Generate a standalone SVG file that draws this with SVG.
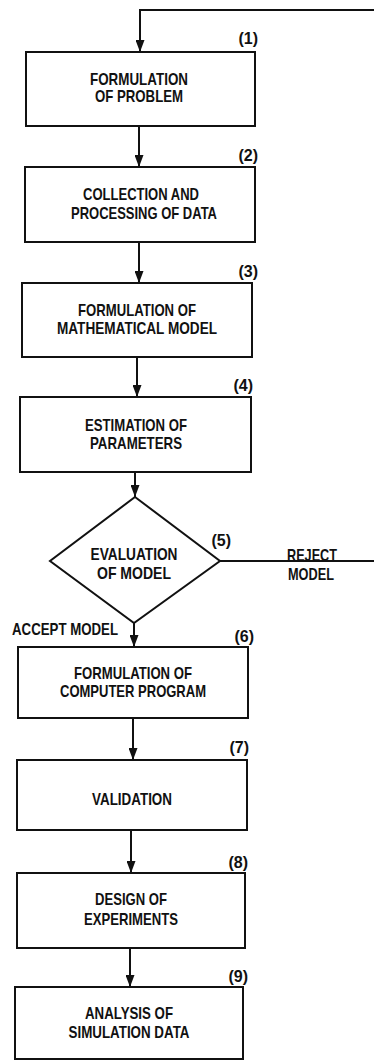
<svg xmlns="http://www.w3.org/2000/svg" width="374" height="1062" viewBox="0 0 374 1062">
  <style>
    .box { fill: #ffffff; stroke: #111111; stroke-width: 2; }
    .lbl { font-family: "Liberation Sans", Arial, sans-serif; font-weight: bold; font-size: 17px; fill: #111111; text-anchor: middle; }
    .num { font-family: "Liberation Sans", Arial, sans-serif; font-weight: bold; font-size: 16px; fill: #111111; text-anchor: end; }
    .side { font-family: "Liberation Sans", Arial, sans-serif; font-weight: bold; font-size: 17px; fill: #111111; }
    .flow { fill: none; stroke: #111111; stroke-width: 2; }
  </style>
  <defs>
    <marker id="arrow" markerUnits="userSpaceOnUse" markerWidth="13" markerHeight="9" refX="12" refY="4.5" orient="auto">
      <path d="M0,0 L12,4.5 L0,9 Z" fill="#111111"/>
    </marker>
  </defs>
  <rect width="374" height="1062" fill="#ffffff"/>

  <!-- connectors -->
  <g id="connectors">
    <line class="flow" x1="139" y1="126" x2="139" y2="167" marker-end="url(#arrow)"/>
    <line class="flow" x1="139" y1="242" x2="139" y2="283" marker-end="url(#arrow)"/>
    <line class="flow" x1="137" y1="357" x2="137" y2="397" marker-end="url(#arrow)"/>
    <line class="flow" x1="135" y1="472" x2="135" y2="497" marker-end="url(#arrow)"/>
    <line class="flow" x1="134" y1="623" x2="134" y2="647" marker-end="url(#arrow)"/>
    <line class="flow" x1="133" y1="718" x2="133" y2="760" marker-end="url(#arrow)"/>
    <line class="flow" x1="131" y1="830" x2="131" y2="873" marker-end="url(#arrow)"/>
    <line class="flow" x1="130" y1="948" x2="130" y2="987" marker-end="url(#arrow)"/>
    <!-- reject loop back to step 1 -->
    <path class="flow" d="M220,561 H380 V10 H140 V52" marker-end="url(#arrow)"/>
    <text class="side" x="287" y="561" textLength="50" lengthAdjust="spacingAndGlyphs">REJECT</text>
    <text class="side" x="288" y="580" textLength="46" lengthAdjust="spacingAndGlyphs">MODEL</text>
    <text class="side" x="12" y="635" textLength="106" lengthAdjust="spacingAndGlyphs">ACCEPT MODEL</text>
  </g>

  <g id="step1">
    <rect class="box" x="26" y="52" width="229" height="74"/>
    <text class="lbl" x="139" y="85" textLength="98" lengthAdjust="spacingAndGlyphs">FORMULATION</text>
    <text class="lbl" x="139" y="102" textLength="88" lengthAdjust="spacingAndGlyphs">OF PROBLEM</text>
    <text class="num" x="258" y="44">(1)</text>
  </g>

  <g id="step2">
    <rect class="box" x="25" y="167" width="230" height="75"/>
    <text class="lbl" x="141" y="200" textLength="116" lengthAdjust="spacingAndGlyphs">COLLECTION AND</text>
    <text class="lbl" x="144" y="219" textLength="146" lengthAdjust="spacingAndGlyphs">PROCESSING OF DATA</text>
    <text class="num" x="258" y="161">(2)</text>
  </g>

  <g id="step3">
    <rect class="box" x="22" y="283" width="230" height="74"/>
    <text class="lbl" x="137" y="316" textLength="118" lengthAdjust="spacingAndGlyphs">FORMULATION OF</text>
    <text class="lbl" x="137" y="334" textLength="160" lengthAdjust="spacingAndGlyphs">MATHEMATICAL MODEL</text>
    <text class="num" x="258" y="277">(3)</text>
  </g>

  <g id="step4">
    <rect class="box" x="20" y="397" width="231" height="75"/>
    <text class="lbl" x="136" y="431" textLength="102" lengthAdjust="spacingAndGlyphs">ESTIMATION OF</text>
    <text class="lbl" x="136" y="449" textLength="92" lengthAdjust="spacingAndGlyphs">PARAMETERS</text>
    <text class="num" x="253" y="391">(4)</text>
  </g>

  <g id="step5">
    <polygon class="box" points="135,497 220,561 134,623 50,561"/>
    <text class="lbl" x="134" y="560" textLength="87" lengthAdjust="spacingAndGlyphs">EVALUATION</text>
    <text class="lbl" x="134" y="579" textLength="74" lengthAdjust="spacingAndGlyphs">OF MODEL</text>
    <text class="num" x="231" y="546">(5)</text>
  </g>

  <g id="step6">
    <rect class="box" x="18" y="647" width="230" height="71"/>
    <text class="lbl" x="133" y="679" textLength="118" lengthAdjust="spacingAndGlyphs">FORMULATION OF</text>
    <text class="lbl" x="133" y="697" textLength="146" lengthAdjust="spacingAndGlyphs">COMPUTER PROGRAM</text>
    <text class="num" x="254" y="642">(6)</text>
  </g>

  <g id="step7">
    <rect class="box" x="17" y="760" width="230" height="70"/>
    <text class="lbl" x="132" y="805" textLength="80" lengthAdjust="spacingAndGlyphs">VALIDATION</text>
    <text class="num" x="249" y="753">(7)</text>
  </g>

  <g id="step8">
    <rect class="box" x="17" y="873" width="228" height="75"/>
    <text class="lbl" x="131" y="905" textLength="72" lengthAdjust="spacingAndGlyphs">DESIGN OF</text>
    <text class="lbl" x="131" y="925" textLength="94" lengthAdjust="spacingAndGlyphs">EXPERIMENTS</text>
    <text class="num" x="248" y="868">(8)</text>
  </g>

  <g id="step9">
    <rect class="box" x="15" y="987" width="228" height="72"/>
    <text class="lbl" x="129" y="1019" textLength="88" lengthAdjust="spacingAndGlyphs">ANALYSIS OF</text>
    <text class="lbl" x="129" y="1038" textLength="121" lengthAdjust="spacingAndGlyphs">SIMULATION DATA</text>
    <text class="num" x="248" y="982">(9)</text>
  </g>
</svg>
